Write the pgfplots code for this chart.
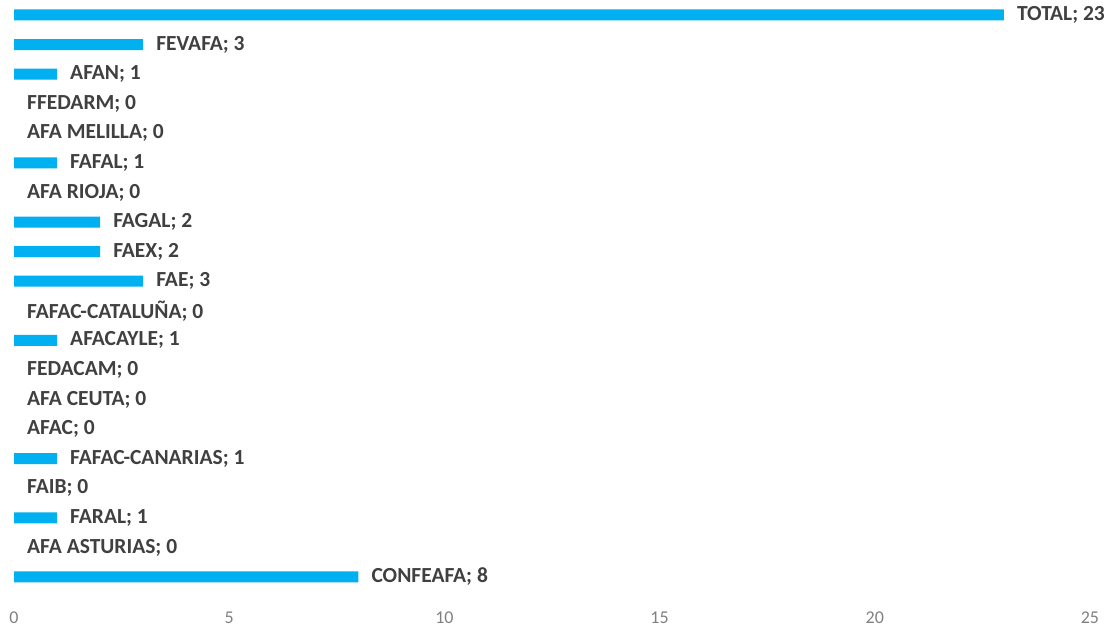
\documentclass[border=0pt]{standalone}
\usepackage{fontspec}
\setmainfont{Carlito}
\usepackage{pgfplots}
\pgfplotsset{compat=1.18}
\usepackage{pgfplotstable}
\definecolor{barblue}{RGB}{0,176,240}
\definecolor{lbl}{RGB}{64,64,64}
\definecolor{tck}{RGB}{128,128,128}
\pgfplotstableread[col sep=comma]{
y,x,label
0,8,CONFEAFA
1,0,AFA ASTURIAS
2,1,FARAL
3,0,FAIB
4,1,FAFAC-CANARIAS
5,0,AFAC
6,0,AFA CEUTA
7,0,FEDACAM
8,1,AFACAYLE
9,0,FAFAC-CATALUÑA
10,3,FAE
11,2,FAEX
12,2,FAGAL
13,0,AFA RIOJA
14,1,FAFAL
15,0,AFA MELILLA
16,0,FFEDARM
17,1,AFAN
18,3,FEVAFA
19,23,TOTAL
}\datatable
\begin{document}
\begin{tikzpicture}
\begin{axis}[
  scale only axis,
  width=1076pt, height=600pt,
  xmin=0, xmax=25,
  ymin=-0.778, ymax=19.507,
  xtick={0,5,10,15,20,25},
  ytick=\empty,
  axis line style={draw=none},
  major tick length=0pt,
  clip=false,
  xticklabel style={font=\fontsize{18}{20}\selectfont, text=tck, anchor=base, yshift=-23pt},
  /pgf/number format/assume math mode=true,
  xbar, bar width=11pt, bar shift=0pt,
]
\addplot[fill=barblue, draw=none, x filter/.expression={x==0 ? nan : x}]
  table[x=x, y=y] {\datatable};
\addplot[draw=none, fill=none,
  point meta=explicit symbolic,
  visualization depends on={x \as \xval},
  nodes near coords={\pgfplotspointmeta; \pgfmathprintnumber[fixed,precision=0]{\xval}},
  every node near coord/.style={anchor=west, inner sep=0pt, xshift=13pt,
     font=\fontsize{21.5}{23}\selectfont\bfseries, text=lbl},
] table[x=x, y=y, meta=label] {\datatable};
\end{axis}
\pgfresetboundingbox
\path (-14pt,-30pt) rectangle (1104pt,600pt);
\end{tikzpicture}
\end{document}
